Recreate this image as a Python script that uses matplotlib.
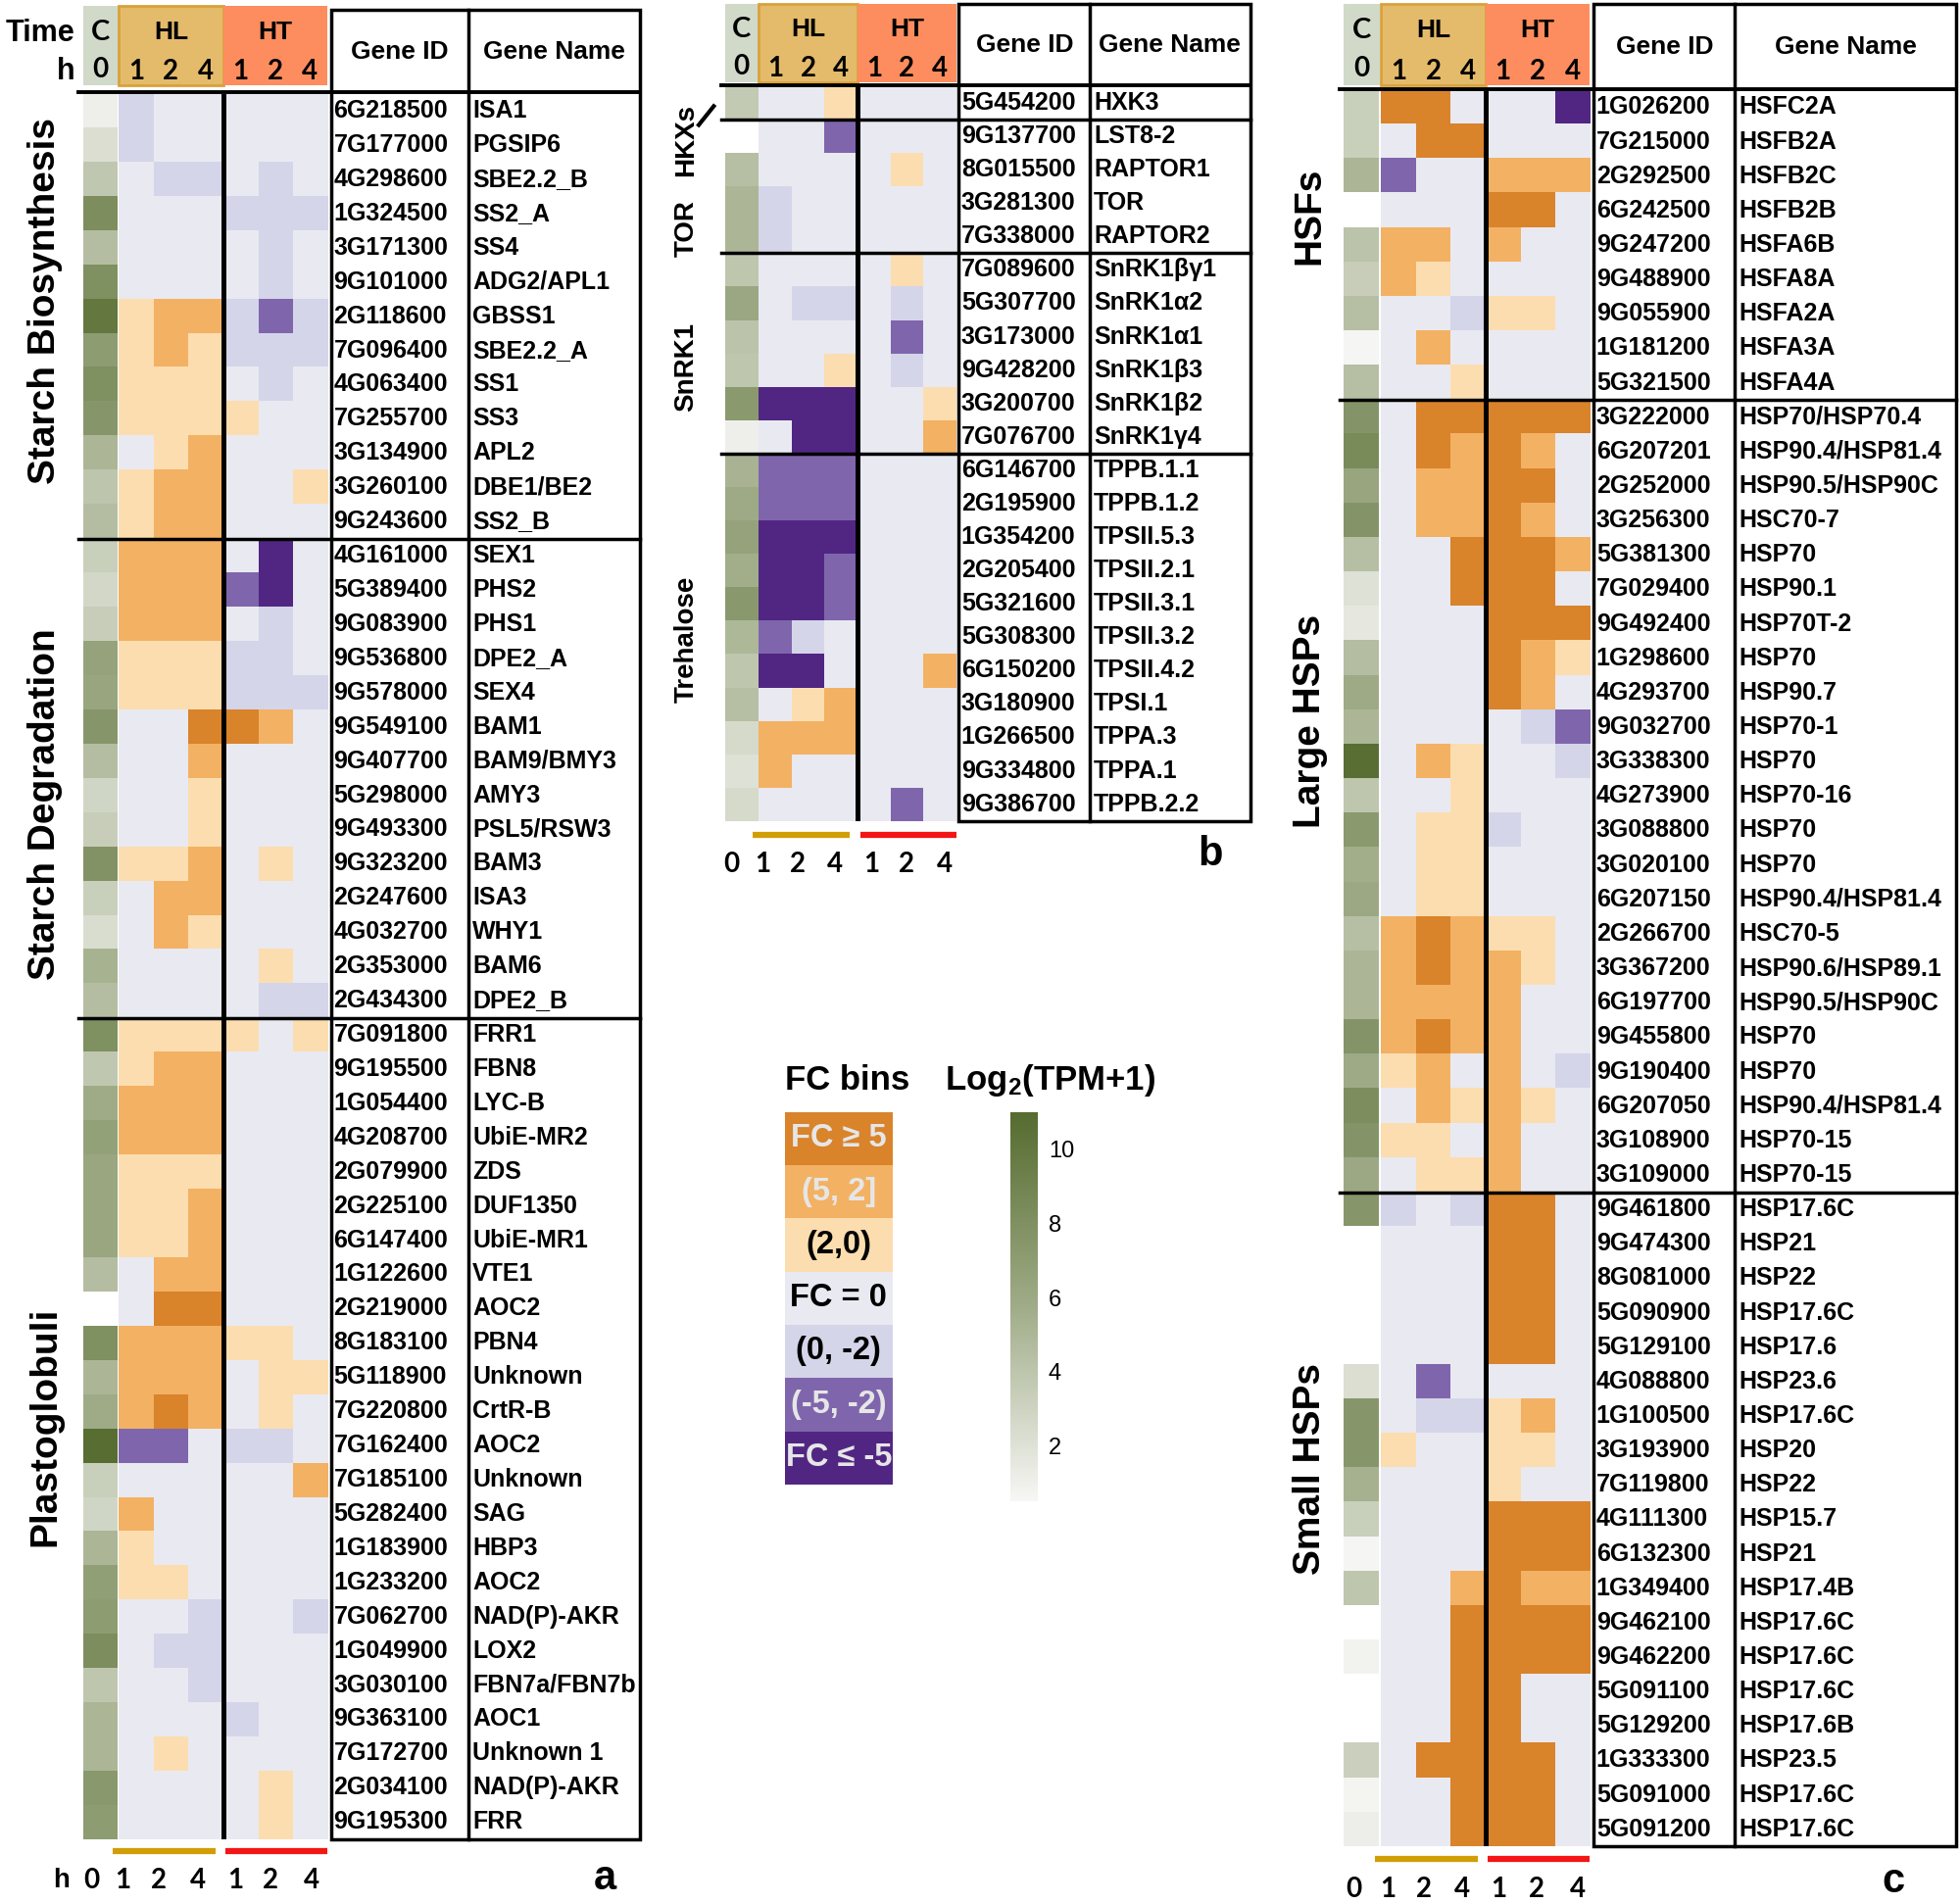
import numpy as np
import matplotlib
matplotlib.use('Agg')
import matplotlib.pyplot as plt
from matplotlib.colors import ListedColormap, BoundaryNorm, LinearSegmentedColormap
from matplotlib.patches import Rectangle
from matplotlib.cm import ScalarMappable
from matplotlib.colors import Normalize

plt.rcParams['font.family'] = ['Liberation Sans', 'DejaVu Sans']
plt.rcParams['font.weight'] = 'bold'
plt.rcParams['mathtext.default'] = 'regular'

nan = np.nan

# FC bins: 3 = FC>=5, 2 = (5,2], 1 = (2,0), 0 = FC=0, -1 = (0,-2), -2 = (-5,-2), -3 = FC<=-5
FC_LABELS = ['FC ≥ 5', '(5, 2]', '(2,0)', 'FC = 0', '(0, -2)', '(-5, -2)', 'FC ≤ -5']
FC_CODES = [3, 2, 1, 0, -1, -2, -3]
FC_COLORS = ['#D9832B', '#F3B163', '#FCDDB0', '#E9E9F1', '#D4D5E9', '#7F66AC', '#512683']
TIME_COLS = ['1', '2', '4', '1', '2', '4']
TPM_TICKS = [2, 4, 6, 8, 10]
TPM_MIN, TPM_MAX = 0.5, 11

# ---- panel a : starch / plastoglobuli ----
A_GROUPS = ['Starch Biosynthesis', 'Starch Degradation', 'Plastoglobuli']
A_SIZES = [13, 14, 24]
A_IDS = ['6G218500', '7G177000', '4G298600', '1G324500', '3G171300', '9G101000', '2G118600',
         '7G096400', '4G063400', '7G255700', '3G134900', '3G260100', '9G243600',
         '4G161000', '5G389400', '9G083900', '9G536800', '9G578000', '9G549100', '9G407700',
         '5G298000', '9G493300', '9G323200', '2G247600', '4G032700', '2G353000', '2G434300',
         '7G091800', '9G195500', '1G054400', '4G208700', '2G079900', '2G225100', '6G147400',
         '1G122600', '2G219000', '8G183100', '5G118900', '7G220800', '7G162400', '7G185100',
         '5G282400', '1G183900', '1G233200', '7G062700', '1G049900', '3G030100', '9G363100',
         '7G172700', '2G034100', '9G195300']
A_NAMES = ['ISA1', 'PGSIP6', 'SBE2.2_B', 'SS2_A', 'SS4', 'ADG2/APL1', 'GBSS1', 'SBE2.2_A',
           'SS1', 'SS3', 'APL2', 'DBE1/BE2', 'SS2_B',
           'SEX1', 'PHS2', 'PHS1', 'DPE2_A', 'SEX4', 'BAM1', 'BAM9/BMY3', 'AMY3', 'PSL5/RSW3',
           'BAM3', 'ISA3', 'WHY1', 'BAM6', 'DPE2_B',
           'FRR1', 'FBN8', 'LYC-B', 'UbiE-MR2', 'ZDS', 'DUF1350', 'UbiE-MR1', 'VTE1', 'AOC2',
           'PBN4', 'Unknown', 'CrtR-B', 'AOC2', 'Unknown', 'SAG', 'HBP3', 'AOC2', 'NAD(P)-AKR',
           'LOX2', 'FBN7a/FBN7b', 'AOC1', 'Unknown 1', 'NAD(P)-AKR', 'FRR']
A_TPM = [1.0, 2.2, 3.8, 8.2, 4.5, 8.0, 10.0, 7.0, 8.0, 7.5, 5.0, 4.0, 4.5,
         3.3, 2.7, 3.4, 6.5, 6.3, 7.5, 4.5, 2.8, 3.4, 7.8, 3.3, 2.3, 5.3, 4.5,
         8.0, 3.8, 5.8, 6.6, 6.2, 6.2, 6.2, 4.5, nan, 8.0, 5.0, 5.8, 10.8, 3.3, 2.8, 5.0,
         6.8, 7.0, 8.2, 3.9, 5.0, 5.0, 7.3, 7.0]
# columns: HL 1h, 2h, 4h, HT 1h, 2h, 4h
A_FC = [[-1, 0, 0, 0, 0, 0], [-1, 0, 0, 0, 0, 0], [0, -1, -1, 0, -1, 0], [0, 0, 0, -1, -1, -1],
        [0, 0, 0, 0, -1, 0], [0, 0, 0, 0, -1, 0], [1, 2, 2, -1, -2, -1], [1, 2, 1, -1, -1, -1],
        [1, 1, 1, 0, -1, 0], [1, 1, 1, 1, 0, 0], [0, 1, 2, 0, 0, 0], [1, 2, 2, 0, 0, 1],
        [1, 2, 2, 0, 0, 0],
        [2, 2, 2, 0, -3, 0], [2, 2, 2, -2, -3, 0], [2, 2, 2, 0, -1, 0], [1, 1, 1, -1, -1, 0],
        [1, 1, 1, -1, -1, -1], [0, 0, 3, 3, 2, 0], [0, 0, 2, 0, 0, 0], [0, 0, 1, 0, 0, 0],
        [0, 0, 1, 0, 0, 0], [1, 1, 2, 0, 1, 0], [0, 2, 2, 0, 0, 0], [0, 2, 1, 0, 0, 0],
        [0, 0, 0, 0, 1, 0], [0, 0, 0, 0, -1, -1],
        [1, 1, 1, 1, 0, 1], [1, 2, 2, 0, 0, 0], [2, 2, 2, 0, 0, 0], [2, 2, 2, 0, 0, 0],
        [1, 1, 1, 0, 0, 0], [1, 1, 2, 0, 0, 0], [1, 1, 2, 0, 0, 0], [0, 2, 2, 0, 0, 0],
        [0, 3, 3, 0, 0, 0], [2, 2, 2, 1, 1, 0], [2, 2, 2, 0, 1, 1], [2, 3, 2, 0, 1, 0],
        [-2, -2, 0, -1, -1, 0], [0, 0, 0, 0, 0, 2], [2, 0, 0, 0, 0, 0], [1, 0, 0, 0, 0, 0],
        [1, 1, 0, 0, 0, 0], [0, 0, -1, 0, 0, -1], [0, -1, -1, 0, 0, 0], [0, 0, -1, 0, 0, 0],
        [0, 0, 0, -1, 0, 0], [0, 1, 0, 0, 0, 0], [0, 0, 0, 0, 1, 0], [0, 0, 0, 0, 1, 0]]

# ---- panel b : sugar signalling ----
B_GROUPS = ['HKXs', 'TOR', 'SnRK1', 'Trehalose']
B_SIZES = [1, 4, 6, 11]
B_IDS = ['5G454200', '9G137700', '8G015500', '3G281300', '7G338000', '7G089600', '5G307700',
         '3G173000', '9G428200', '3G200700', '7G076700', '6G146700', '2G195900', '1G354200',
         '2G205400', '5G321600', '5G308300', '6G150200', '3G180900', '1G266500', '9G334800',
         '9G386700']
B_NAMES = ['HXK3', 'LST8-2', 'RAPTOR1', 'TOR', 'RAPTOR2', 'SnRK1βγ1', 'SnRK1α2', 'SnRK1α1',
           'SnRK1β3', 'SnRK1β2', 'SnRK1γ4', 'TPPB.1.1', 'TPPB.1.2', 'TPSII.5.3', 'TPSII.2.1',
           'TPSII.3.1', 'TPSII.3.2', 'TPSII.4.2', 'TPSI.1', 'TPPA.3', 'TPPA.1', 'TPPB.2.2']
B_TPM = [3.6, nan, 4.4, 5.0, 5.0, 3.9, 6.1, 4.1, 3.9, 7.2, 1.0, 5.2, 5.9, 6.5, 5.6, 7.3,
         4.9, 3.9, 4.4, 2.5, 2.0, 2.5]
B_FC = [[0, 0, 1, 0, 0, 0], [0, 0, -2, 0, 0, 0], [0, 0, 0, 0, 1, 0], [-1, 0, 0, 0, 0, 0],
        [-1, 0, 0, 0, 0, 0], [0, 0, 0, 0, 1, 0], [0, -1, -1, 0, -1, 0], [0, 0, 0, 0, -2, 0],
        [0, 0, 1, 0, -1, 0], [-3, -3, -3, 0, 0, 1], [0, -3, -3, 0, 0, 2], [-2, -2, -2, 0, 0, 0],
        [-2, -2, -2, 0, 0, 0], [-3, -3, -3, 0, 0, 0], [-3, -3, -2, 0, 0, 0], [-3, -3, -2, 0, 0, 0],
        [-2, -1, 0, 0, 0, 0], [-3, -3, 0, 0, 0, 2], [0, 1, 2, 0, 0, 0], [2, 2, 2, 0, 0, 0],
        [2, 0, 0, 0, 0, 0], [0, 0, 0, 0, -2, 0]]

# ---- panel c : heat shock ----
C_GROUPS = ['HSFs', 'Large HSPs', 'Small HSPs']
C_SIZES = [9, 23, 19]
C_IDS = ['1G026200', '7G215000', '2G292500', '6G242500', '9G247200', '9G488900', '9G055900',
         '1G181200', '5G321500',
         '3G222000', '6G207201', '2G252000', '3G256300', '5G381300', '7G029400', '9G492400',
         '1G298600', '4G293700', '9G032700', '3G338300', '4G273900', '3G088800', '3G020100',
         '6G207150', '2G266700', '3G367200', '6G197700', '9G455800', '9G190400', '6G207050',
         '3G108900', '3G109000',
         '9G461800', '9G474300', '8G081000', '5G090900', '5G129100', '4G088800', '1G100500',
         '3G193900', '7G119800', '4G111300', '6G132300', '1G349400', '9G462100', '9G462200',
         '5G091100', '5G129200', '1G333300', '5G091000', '5G091200']
C_NAMES = ['HSFC2A', 'HSFB2A', 'HSFB2C', 'HSFB2B', 'HSFA6B', 'HSFA8A', 'HSFA2A', 'HSFA3A', 'HSFA4A',
           'HSP70/HSP70.4', 'HSP90.4/HSP81.4', 'HSP90.5/HSP90C', 'HSC70-7', 'HSP70', 'HSP90.1',
           'HSP70T-2', 'HSP70', 'HSP90.7', 'HSP70-1', 'HSP70', 'HSP70-16', 'HSP70', 'HSP70',
           'HSP90.4/HSP81.4', 'HSC70-5', 'HSP90.6/HSP89.1', 'HSP90.5/HSP90C', 'HSP70', 'HSP70',
           'HSP90.4/HSP81.4', 'HSP70-15', 'HSP70-15',
           'HSP17.6C', 'HSP21', 'HSP22', 'HSP17.6C', 'HSP17.6', 'HSP23.6', 'HSP17.6C', 'HSP20',
           'HSP22', 'HSP15.7', 'HSP21', 'HSP17.4B', 'HSP17.6C', 'HSP17.6C', 'HSP17.6C',
           'HSP17.6B', 'HSP23.5', 'HSP17.6C', 'HSP17.6C']
C_TPM = [3.3, 3.3, 5.0, nan, 4.1, 3.4, 4.4, 0.6, 4.4,
         7.6, 8.4, 6.3, 7.6, 4.4, 2.0, 1.5, 4.5, 5.9, 5.0, 10.7, 3.9, 7.2, 5.6, 6.0, 4.4, 5.0,
         5.0, 7.6, 5.9, 8.2, 7.6, 6.0,
         7.5, nan, nan, nan, nan, 2.2, 7.5, 7.5, 5.4, 3.3, 0.6, 3.9, nan, 0.8, nan, nan, 3.2,
         0.7, 1.1]
C_FC = [[3, 3, 0, 0, 0, -3], [0, 3, 3, 0, 0, 0], [-2, 0, 0, 2, 2, 2], [0, 0, 0, 3, 3, 0],
        [2, 2, 0, 2, 0, 0], [2, 1, 0, 0, 0, 0], [0, 0, -1, 1, 1, 0], [0, 2, 0, 0, 0, 0],
        [0, 0, 1, 0, 0, 0],
        [0, 3, 3, 3, 3, 3], [0, 3, 2, 3, 2, 0], [0, 2, 2, 3, 3, 0], [0, 2, 2, 3, 2, 0],
        [0, 0, 3, 3, 3, 2], [0, 0, 3, 3, 3, 0], [0, 0, 0, 3, 3, 3], [0, 0, 0, 3, 2, 1],
        [0, 0, 0, 3, 2, 0], [0, 0, 0, 0, -1, -2], [0, 2, 1, 0, 0, -1], [0, 0, 1, 0, 0, 0],
        [0, 1, 1, -1, 0, 0], [0, 1, 1, 0, 0, 0], [0, 1, 1, 0, 0, 0], [2, 3, 2, 1, 1, 0],
        [2, 3, 2, 2, 1, 0], [2, 2, 2, 2, 0, 0], [2, 3, 2, 2, 0, 0], [1, 2, 0, 2, 0, -1],
        [0, 2, 1, 2, 1, 0], [1, 1, 0, 2, 0, 0], [0, 1, 1, 2, 0, 0],
        [-1, 0, -1, 3, 3, 0], [0, 0, 0, 3, 3, 0], [0, 0, 0, 3, 3, 0], [0, 0, 0, 3, 3, 0],
        [0, 0, 0, 3, 3, 0], [0, -2, 0, 0, 0, 0], [0, -1, -1, 1, 2, 0], [1, 0, 0, 1, 1, 0],
        [0, 0, 0, 1, 0, 0], [0, 0, 0, 3, 3, 3], [0, 0, 0, 3, 3, 3], [0, 0, 2, 3, 2, 2],
        [0, 0, 3, 3, 3, 3], [0, 0, 3, 3, 3, 3], [0, 0, 3, 3, 0, 0], [0, 0, 3, 3, 0, 0],
        [0, 3, 3, 3, 3, 0], [0, 0, 3, 3, 3, 0], [0, 0, 3, 3, 3, 0]]

# layout, in px of a 1568 x 1524 canvas
W, H = 1568.0, 1524.0
LAYOUT_A = dict(c=(67, 94), fc=(95, 262), rows=(75, 1472), head=(5, 68), table=(265, 375, 512),
                ttop=8, sep_x0=63, label_x=36, label_y=[241, 644, 1142], label_size=28,
                bottom_y=1505, bottom_x=[73, 98, 127, 158, 188, 216, 249], line_y=1482,
                letter=('a', 484, 1519))
LAYOUT_B = dict(c=(580, 606), fc=(607, 765), rows=(69, 657), head=(3, 66), table=(767, 872, 1000),
                ttop=3, sep_x0=577, label_x=549, label_y=[112, 183, 294, 512], label_size=20,
                bottom_y=692, bottom_x=[585, 610, 638, 668, 697, 725, 756], line_y=668,
                letter=('b', 968, 700))
LAYOUT_C = dict(c=(1075, 1103), fc=(1105, 1272), rows=(72, 1478), head=(3, 68),
                table=(1275, 1388, 1565), ttop=3, sep_x0=1072, label_x=1048,
                label_y=[173, 577, 1176], label_size=28, bottom_y=1512,
                bottom_x=[1083, 1110, 1139, 1170, 1199, 1229, 1262], line_y=1488,
                letter=('c', 1515, 1522))

C_HEAD, HL_HEAD, HL_EDGE, HT_HEAD = '#D1D9C9', '#E4BB6B', '#D9A23A', '#FD8D5E'
GOLD, RED = '#D19E06', '#F41515'
NUM_FONT = ['Lato', 'DejaVu Sans']

green = LinearSegmentedColormap.from_list('tpm', ['#F7F7F5', '#A0AC88', '#556B2F'])
green.set_bad('white')
fc_cmap = ListedColormap(FC_COLORS[::-1])
fc_norm = BoundaryNorm(np.arange(-3.5, 4.0, 1.0), fc_cmap.N)

fig = plt.figure(figsize=(20, 19.43), dpi=100)
ov = fig.add_axes([0, 0, 1, 1])
ov.set_xlim(0, W)
ov.set_ylim(H, 0)
ov.axis('off')
ov.set_zorder(5)


def frac(x0, y0, x1, y1):
    return [x0 / W, 1 - y1 / H, (x1 - x0) / W, (y1 - y0) / H]


def draw_panel(lay, groups, sizes, ids, names, tpm, fc):
    n = len(ids)
    top, bot = lay['rows']
    rh = (bot - top) / n
    cx0, cx1 = lay['c']
    fx0, fx1 = lay['fc']
    fmid = (fx0 + fx1) / 2
    cw = (fx1 - fx0) / 6

    axc = fig.add_axes(frac(cx0, top, cx1, bot))
    axc.imshow(np.array(tpm, float).reshape(-1, 1), cmap=green, vmin=TPM_MIN, vmax=TPM_MAX,
               aspect='auto', interpolation='nearest')
    axc.axis('off')
    axf = fig.add_axes(frac(fx0, top, fx1, bot))
    axf.imshow(np.array(fc), cmap=fc_cmap, norm=fc_norm, aspect='auto', interpolation='nearest')
    axf.axvline(2.5, color='black', lw=3.6)
    axf.axis('off')

    # header boxes
    h0, h1 = lay['head']
    hh = h1 - h0
    ov.add_patch(Rectangle((cx0, h0), cx1 - cx0 + 1, hh, color=C_HEAD, lw=0))
    ov.add_patch(Rectangle((fx0, h0), fmid - fx0, hh, facecolor=HL_HEAD, edgecolor=HL_EDGE, lw=2))
    ov.add_patch(Rectangle((fmid, h0), fx1 - fmid, hh, color=HT_HEAD, lw=0))
    ccx = (cx0 + cx1) / 2
    ov.text(ccx, h0 + 0.33 * hh, 'C', ha='center', va='center', fontsize=21, family=NUM_FONT)
    ov.text(ccx, h0 + 0.8 * hh, '0', ha='center', va='center', fontsize=20, family=NUM_FONT)
    ov.text((fx0 + fmid) / 2, h0 + 0.33 * hh, 'HL', ha='center', va='center', fontsize=19)
    ov.text((fmid + fx1) / 2, h0 + 0.33 * hh, 'HT', ha='center', va='center', fontsize=19)
    for j, t in enumerate(TIME_COLS):
        ov.text(fx0 + cw * (j + 0.5), h0 + 0.83 * hh, t, ha='center', va='center',
                fontsize=20, family=NUM_FONT)

    # table
    tx0, tdiv, tx1 = lay['table']
    ttop = lay['ttop']
    ov.add_patch(Rectangle((tx0, ttop), tx1 - tx0, bot - ttop, fill=False, lw=2.5, color='black'))
    ov.plot([tdiv, tdiv], [ttop, bot], color='black', lw=2.5)
    ov.text((tx0 + tdiv) / 2, (ttop + top) / 2, 'Gene ID', ha='center', va='center', fontsize=19)
    ov.text((tdiv + tx1) / 2, (ttop + top) / 2, 'Gene Name', ha='center', va='center', fontsize=19)
    ov.plot([lay['sep_x0'], tx1], [top - 1, top - 1], color='black', lw=2.8)
    for k in np.cumsum(sizes)[:-1]:
        y = top + k * rh
        ov.plot([lay['sep_x0'], tx1], [y, y], color='black', lw=2.5)
    for i in range(n):
        y = top + (i + 0.5) * rh
        ov.text(tx0 + 2, y, ids[i], ha='left', va='center', fontsize=18)
        ov.text(tdiv + 3, y, names[i], ha='left', va='center', fontsize=18)

    for g, ly in zip(groups, lay['label_y']):
        ov.text(lay['label_x'], ly, g, rotation=90, ha='center', va='center',
                fontsize=lay['label_size'])

    ly = lay['line_y']
    ov.plot([fx0 - 5, fmid - 6], [ly, ly], color=GOLD, lw=4.5, solid_capstyle='butt')
    ov.plot([fmid + 2, fx1], [ly, ly], color=RED, lw=4.5, solid_capstyle='butt')
    for x, t in zip(lay['bottom_x'], ['0'] + TIME_COLS):
        ov.text(x, lay['bottom_y'], t, ha='center', va='center', fontsize=20, family=NUM_FONT)
    letter, lx, lyy = lay['letter']
    ov.text(lx, lyy, letter, ha='center', va='bottom', fontsize=30)


draw_panel(LAYOUT_A, A_GROUPS, A_SIZES, A_IDS, A_NAMES, A_TPM, A_FC)
draw_panel(LAYOUT_B, B_GROUPS, B_SIZES, B_IDS, B_NAMES, B_TPM, B_FC)
draw_panel(LAYOUT_C, C_GROUPS, C_SIZES, C_IDS, C_NAMES, C_TPM, C_FC)

# extra labels of panel a and b
ov.text(60, 27, 'Time', ha='right', va='center', fontsize=22)
ov.text(60, 57, 'h', ha='right', va='center', fontsize=22)
ov.text(49, 1505, 'h', ha='center', va='center', fontsize=20)
ov.plot([559, 571], [100, 85], color='black', lw=3)

# FC bins legend
axl = fig.add_axes(frac(628, 890, 714, 1188))
axl.imshow(np.array(FC_CODES).reshape(-1, 1), cmap=fc_cmap, norm=fc_norm, aspect='auto')
axl.axis('off')
for i, lab in enumerate(FC_LABELS):
    col = '#E6E6E6' if i in (0, 1, 5, 6) else 'black'
    axl.text(0, i, lab, ha='center', va='center', fontsize=23.5, color=col)
ov.text(678, 865, 'FC bins', ha='center', va='center', fontsize=25)
ov.text(840, 865, r'Log$_2$(TPM+1)', ha='center', va='center', fontsize=25)

# TPM colour bar
cax = fig.add_axes(frac(808, 890, 830, 1202))
sm = ScalarMappable(norm=Normalize(TPM_MIN, TPM_MAX), cmap=green)
cb = fig.colorbar(sm, cax=cax, ticks=TPM_TICKS)
cb.outline.set_visible(False)
cax.tick_params(length=0, pad=8)
for t in cax.get_yticklabels():
    t.set_fontsize(17)
    t.set_fontweight('normal')

fig.savefig('out.png', dpi=100)
